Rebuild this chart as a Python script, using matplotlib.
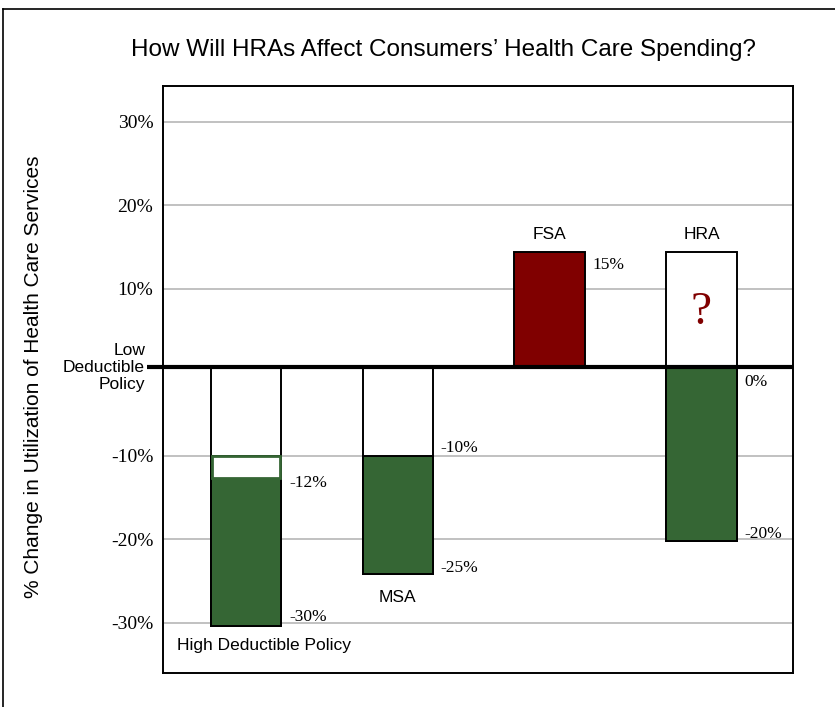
import matplotlib
matplotlib.use("Agg")
import matplotlib.pyplot as plt
from matplotlib.lines import Line2D

# values (percent change)
categories = ["High Deductible Policy", "MSA", "FSA", "HRA"]
baseline = 0.6                      # the thick "low deductible" line
upper_top = [None, None, 14.4, 14.4]           # bars above the line
lower_bottom = [-30.4, -24.2, None, -20.2]     # outline bottoms below the line
green_top = [-10, -10, None, baseline]
green_bottom = [-30.4, -24.2, None, -20.2]
gap_bottom = -12.7                  # white inset in high deductible bar
value_labels = [["-12%", "-30%"], ["-10%", "-25%"], ["15%"], ["0%", "-20%"]]
label_y = [[-13.3, -29.3], [-9.1, -23.4], [12.9], [-1.2, -19.4]]
yticks = [-30, -20, -10, 10, 20, 30]
ytick_labels = ["-30%", "-20%", "-10%", "10%", "20%", "30%"]

green = "#356634"
maroon = "#800000"
sans = "Liberation Sans"
serif = "Liberation Serif"

fig = plt.figure(figsize=(8.35, 7.07), dpi=100)
ax = fig.add_axes([163 / 835, 1 - 673 / 707, 630 / 835, (673 - 86) / 707])
ax.set_xlim(-0.547, 3.603)
ax.set_ylim(-36.0, 34.3)

w = 0.465
x = list(range(len(categories)))

# gridlines
for t in yticks:
    ax.axhline(t, color="#b0b0b0", lw=1.1, zorder=0)

for i in x:
    # outline below the line
    if lower_bottom[i] is not None:
        ax.bar(i, lower_bottom[i] - baseline, bottom=baseline, width=w,
               color="white", edgecolor="black", lw=1.4, zorder=2)
    if green_top[i] is not None:
        ax.bar(i, green_bottom[i] - green_top[i], bottom=green_top[i], width=w,
               color=green, edgecolor="black", lw=1.4, zorder=3)
    if upper_top[i] is not None:
        fc = maroon if categories[i] == "FSA" else "white"
        ax.bar(i, upper_top[i] - baseline, bottom=baseline, width=w,
               color=fc, edgecolor="black", lw=1.4, zorder=2)

# white gap at top of the high deductible bar
ax.bar(0, gap_bottom - green_top[0], bottom=green_top[0], width=w - 0.02,
       color="white", edgecolor=green, lw=2, zorder=4)

# value labels to the right of the bars
for i in x:
    for txt, yy in zip(value_labels[i], label_y[i]):
        ax.text(i + w / 2 + 0.05, yy, txt, fontfamily=serif, fontsize=12.5,
                va="center", ha="left", zorder=5)

# category names
ax.text(-0.455, -32.7, categories[0], fontfamily=sans, fontsize=12.5, va="center", ha="left")
ax.text(1, -26.9, categories[1], fontfamily=sans, fontsize=12.5, va="center", ha="center")
ax.text(2, 16.5, categories[2], fontfamily=sans, fontsize=12.5, va="center", ha="center")
ax.text(3, 16.5, categories[3], fontfamily=sans, fontsize=12.5, va="center", ha="center")
ax.text(3, 7.2, "?", fontfamily=serif, fontsize=34, color=maroon, va="center", ha="center", zorder=5)

# thick line for the low deductible policy
ax.plot([-0.65, 3.603], [baseline, baseline], color="black", lw=3, zorder=6,
        clip_on=False, solid_capstyle="butt")
ax.text(-0.665, baseline, "Low\nDeductible\nPolicy", fontfamily=sans, fontsize=12.5,
        ha="right", va="center", linespacing=1.15)

ax.set_xticks([])
ax.set_yticks(yticks)
ax.set_yticklabels(ytick_labels, fontfamily=serif, fontsize=14)
ax.tick_params(axis="y", length=0, pad=7)
for s in ax.spines.values():
    s.set_linewidth(1.4)

fig.text(131 / 835, 1 - 56 / 707, "How Will HRAs Affect Consumers\u2019 Health Care Spending?",
         fontfamily=sans, fontsize=17.5, ha="left", va="baseline")
fig.text(34 / 835, 1 - 155 / 707, "% Change in Utilization of Health Care Services",
         fontfamily=sans, fontsize=15, rotation=90, ha="center", va="top")

# page frame (left and top edges)
fig.add_artist(Line2D([3 / 835, 3 / 835], [0, 1 - 9 / 707], color="black", lw=1.2,
                      transform=fig.transFigure))
fig.add_artist(Line2D([3 / 835, 1], [1 - 9 / 707, 1 - 9 / 707], color="black", lw=1.2,
                      transform=fig.transFigure))

fig.savefig("out.png", dpi=100)
